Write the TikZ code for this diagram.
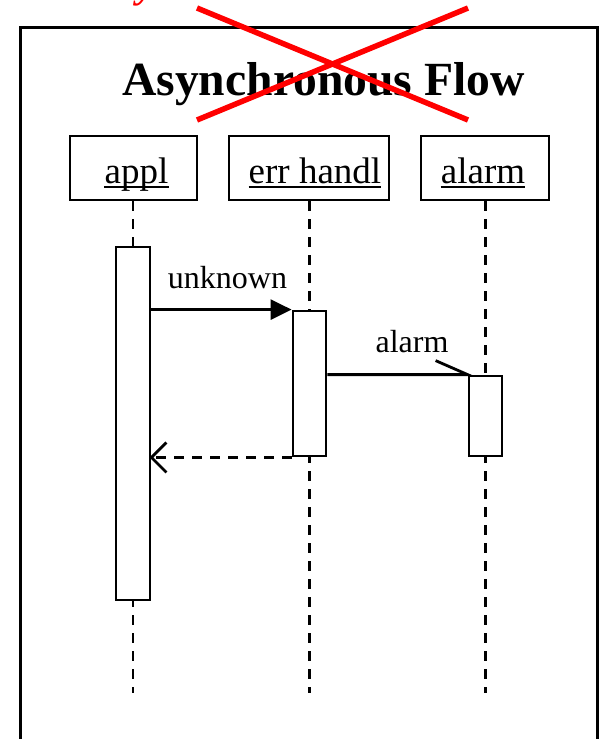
\documentclass[tikz,border=0pt]{standalone}
\usepackage{fontspec}
\setmainfont{Liberation Serif}
\usetikzlibrary{arrows.meta}
\begin{document}
\begin{tikzpicture}[x=1pt,y=-1pt,
  objbox/.style={draw,line width=2.8pt,minimum height=64pt,inner sep=0pt},
  objtext/.style={anchor=base,inner sep=0pt,font=\fontsize{37}{40}\selectfont},
  uline/.style={line width=2.4pt},
  lifeline/.style={line width=2.9pt,dash pattern=on 10pt off 8pt},
  act/.style={draw,fill=white,line width=2.8pt,inner sep=0pt,minimum width=33pt},
  msg/.style={line width=2.8pt},
  lbl/.style={anchor=base,inner sep=0pt,font=\fontsize{32}{34}\selectfont},
  cross/.style={red,line width=5.5pt}
]
\useasboundingbox (0,0) rectangle (599,739);

% cut-off red text at top
\node[anchor=base,inner sep=0pt,text=red,font=\fontsize{40}{42}\selectfont\bfseries\itshape] (redy) at (146,-3) {y};

% frame
\draw[line width=3pt] (20,760) -- (20,27) -- (597,27) -- (597,760);

% title
\node[anchor=base,inner sep=0pt,font=\fontsize{47.6}{50}\selectfont\bfseries] (title) at (323.5,95) {Asynchronous Flow};

% objects
\node[objbox,minimum width=127pt] (appl) at (133.5,168) {};
\node[objbox,minimum width=160pt] (err) at (309,168) {};
\node[objbox,minimum width=128pt] (alarm) at (485,168) {};

\node[objtext] (applt) at (136.5,183) {appl};
\node[objtext] (errt) at (315,183) {err handl};
\node[objtext] (alarmt) at (483,183) {alarm};
\draw[uline] ([yshift=-4pt]applt.base west) -- ([yshift=-4pt]applt.base east);
\draw[uline] ([yshift=-4pt]errt.base west) -- ([yshift=-4pt]errt.base east);
\draw[uline] ([yshift=-4pt]alarmt.base west) -- ([yshift=-4pt]alarmt.base east);

% lifelines
\coordinate (applend) at (133,693);
\coordinate (errend) at (309.5,693);
\coordinate (alarmend) at (485.5,693);
\draw[lifeline] (appl.south -| applend) -- (applend);
\draw[lifeline] (err.south -| errend) -- (errend);
\draw[lifeline] (alarm.south -| alarmend) -- (alarmend);

% activations
\node[act,minimum width=34pt,minimum height=353pt] (aA) at (133,423.5) {};
\node[act,minimum height=145pt] (aE) at (309.5,383.5) {};
\node[act,minimum height=80pt] (aL) at (485.5,416) {};

% messages
\draw[msg,-{Triangle[length=21pt,width=20pt]}] (aA.east |- aE.north) -- (aE.north west);
\node[lbl] (unk) at (227.5,288) {unknown};

\draw[msg] (aE.east |- aL.north) -- (aL.north west) -- ++(-32,-14);
\node[lbl] (alm) at (412,352) {alarm};

\draw[msg,dash pattern=on 10pt off 8pt] (aE.south west) -- (aA.east |- aE.south);
\draw[msg] (aA.east |- aE.south) ++(15,-15) -- (aA.east |- aE.south) -- ++(15,15);

% red cross
\draw[cross] (197,8) -- (468,120);
\draw[cross] (197,120) -- (468,8);
\end{tikzpicture}
\end{document}
